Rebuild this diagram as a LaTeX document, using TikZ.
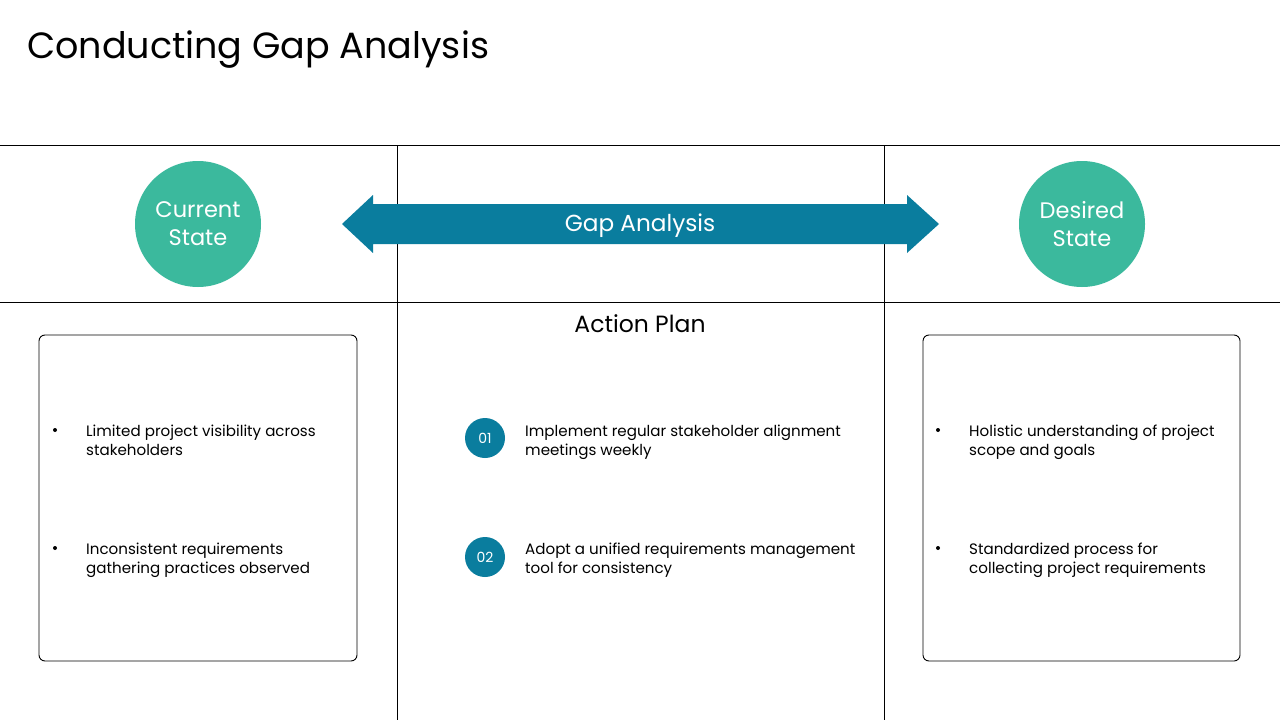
\documentclass[tikz,border=0pt]{standalone}
\usepackage{fontspec}
\setmainfont{Poppins}
\definecolor{teal1}{HTML}{3BB99D}
\definecolor{blue1}{HTML}{0A7D9E}
\tikzset{
  rule/.style={draw=black, line width=0.9pt},
  statecirc/.style={circle, fill=teal1, minimum size=126pt, inner sep=0pt, text=white, align=center, font=\fontsize{22.5}{28}\selectfont},
  numcirc/.style={circle, fill=blue1, minimum size=40pt, inner sep=0pt, text=white, font=\fontsize{14}{16}\selectfont},
  listbox/.style={draw=black, line width=0.9pt, rounded corners=6pt},
  itemtext/.style={anchor=north west, align=left, inner sep=0pt, font=\fontsize{15.1}{18.5}\selectfont},
  bul/.style={circle, fill=black, inner sep=0pt, minimum size=4pt}
}
\begin{document}
\begin{tikzpicture}[x=1pt,y=-1pt]
\useasboundingbox[fill=white] (0,0) rectangle (1280,720);
\node[anchor=base west, inner sep=0pt, font=\fontsize{36.5}{44}\selectfont] (title) at (27,58) {Conducting Gap Analysis};
% grid lines
\coordinate (h1l) at (0,145); \coordinate (h1r) at (1280,145);
\coordinate (h2l) at (0,302); \coordinate (h2r) at (1280,302);
\coordinate (v1t) at (397,145); \coordinate (v1b) at (397,720);
\coordinate (v2t) at (884,145); \coordinate (v2b) at (884,720);
\draw[rule] (h1l) -- (h1r);
\draw[rule] (h2l) -- (h2r);
\draw[rule] (v1t) -- (v1b);
\draw[rule] (v2t) -- (v2b);
% arrow
\fill[blue1] (342,224) -- (373,195) -- (373,204) -- (907,204) -- (907,195) -- (939,224) -- (907,253) -- (907,244) -- (373,244) -- (373,253) -- cycle;
\node[text=white, font=\fontsize{23.2}{28}\selectfont] (gap) at (640,226) {Gap Analysis};
% circles
\node[statecirc] (cur) at (198,224) {Current\\State};
\node[statecirc] (des) at (1082,224) {Desired\\State};
% action plan
\node[font=\fontsize{23.5}{28}\selectfont] (ap) at (640,324) {Action Plan};
% boxes
\draw[listbox] (39,335) rectangle (357,661);
\draw[listbox] (923,335) rectangle (1240,661);
% left items
\node[bul] (lb1) at (55,430) {};
\node[itemtext] (l1) at (86,425) {Limited project visibility across\\stakeholders};
\node[bul] (lb2) at (55,548) {};
\node[itemtext] (l2) at (86,543) {Inconsistent requirements\\gathering practices observed};
% right items
\node[bul] (rb1) at (938,430) {};
\node[itemtext] (r1) at (969,425) {Holistic understanding of project\\scope and goals};
\node[bul] (rb2) at (938,548) {};
\node[itemtext] (r2) at (969,543) {Standardized process for\\collecting project requirements};
% middle items
\node[numcirc] (n1) at (485,438) {01};
\node[itemtext] (m1) at (525,425) {Implement regular stakeholder alignment\\meetings weekly};
\node[numcirc] (n2) at (485,557) {02};
\node[itemtext] (m2) at (525,543) {Adopt a unified requirements management\\tool for consistency};
\end{tikzpicture}
\end{document}
